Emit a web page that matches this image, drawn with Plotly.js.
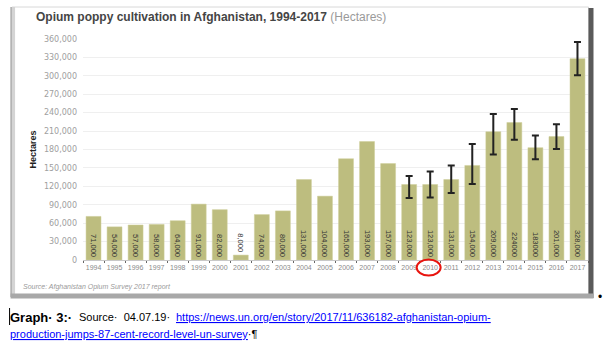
<!DOCTYPE html>
<html>
<head>
<meta charset="utf-8">
<script src="https://cdn.plot.ly/plotly-3.0.1.min.js"></script>
<style>html,body{margin:0;padding:0;background:#fff;}#chart{width:606px;height:352px;}</style>
</head>
<body>
<div id="chart"></div>
<script>
// ---- data ----
const years = ["1994","1995","1996","1997","1998","1999","2000","2001","2002","2003","2004","2005","2006","2007","2008","2009","2010","2011","2012","2013","2014","2015","2016","2017"];
const hectares = [71000,54000,57000,58000,64000,91000,82000,8000,74000,80000,131000,104000,165000,193000,157000,123000,123000,131000,154000,209000,224000,183000,201000,328000];
const barLabels = ["71,000","54,000","57,000","58,000","64,000","91,000","82,000","8,000","74,000","80,000","131,000","104,000","165,000","193,000","157,000","123,000","123,000","131,000","154,000","209,000","224000","183000","201,000","328,000"];
// NaN = no error range reported for that year
const errPlus  = [NaN,NaN,NaN,NaN,NaN,NaN,NaN,NaN,NaN,NaN,NaN,NaN,NaN,NaN,NaN,14000,21000,23000,35000,29000,22000,20000,20000,27000];
const errMinus = [NaN,NaN,NaN,NaN,NaN,NaN,NaN,NaN,NaN,NaN,NaN,NaN,NaN,NaN,NaN,22000,21000,22000,30000,37000,28000,19000,20000,27000];
const yTickVals = [0,30000,60000,90000,120000,150000,180000,210000,240000,270000,300000,330000,360000];
const yTickText = ["0","30,000","60,000","90,000","120,000","150,000","180,000","210,000","240,000","270,000","300,000","330,000","360,000"];

// ---- geometry helpers (pixel -> paper) ----
const L = 83, R = 588.5, T = 39, B = 260;
const W = R - L, H = B - T;
const px = v => (v - L) / W;
const py = v => (B - v) / H;

const textPos = hectares.map(v => v < 20000 ? "outside" : "inside");

const trace = {
  type: "bar",
  x: years,
  y: hectares,
  text: barLabels,
  textposition: textPos,
  insidetextanchor: "start",
  textangle: 90,
  constraintext: "none",
  textfont: {family: "Arial, Liberation Sans, sans-serif", size: 7.5, color: "#333"},
  cliponaxis: false,
  marker: {color: "#BDBD7F", line: {color: "#CFCF9A", width: 0.5}},
  error_y: {type: "data", symmetric: false, array: errPlus, arrayminus: errMinus,
            color: "#222", thickness: 2, width: 3.5, visible: true},
  hoverinfo: "x+y"
};

const shapes = [
  // frame of the embedded screenshot
  {type:"rect", xref:"paper", yref:"paper", x0:px(12), x1:px(589), y0:py(297), y1:py(7),
   line:{color:"#d8d8d8", width:1}, fillcolor:"rgba(0,0,0,0)", layer:"below"},
  {type:"rect", xref:"paper", yref:"paper", x0:px(10.5), x1:px(15), y0:py(297), y1:py(7),
   line:{width:0}, fillcolor:"#d4d4d4"},
  {type:"line", xref:"paper", yref:"paper", x0:px(11), x1:px(11), y0:py(297), y1:py(7),
   line:{color:"#9a9a9a", width:1}},
  {type:"rect", xref:"paper", yref:"paper", x0:px(589), x1:px(594), y0:py(298), y1:py(8),
   line:{width:0}, fillcolor:"#5a5a5a"},
  {type:"rect", xref:"paper", yref:"paper", x0:px(10.5), x1:px(594), y0:py(298.5), y1:py(293.5),
   line:{width:0}, fillcolor:"#a8a8a8"},
  // red circle around 2010
  {type:"circle", xref:"paper", yref:"paper", x0:px(417), x1:px(441), y0:py(275.5), y1:py(259.5),
   line:{color:"#e8140e", width:2}},
  // text cursor
  {type:"line", xref:"paper", yref:"paper", x0:px(9.5), x1:px(9.5), y0:py(325), y1:py(308),
   line:{color:"#000", width:1}}
];

const narrow = "Liberation Sans Narrow, Arial Narrow, Liberation Sans, Arial, sans-serif";
const annotations = [
  {xref:"paper", yref:"paper", x:px(34), y:py(17), xanchor:"left", yanchor:"middle", showarrow:false,
   text:"<b>Opium poppy cultivation in Afghanistan, 1994-2017</b> <span style=\"color:#9a9a9a\">(Hectares)</span>",
   font:{family:"Arial, Liberation Sans, sans-serif", size:12, color:"#454545"}},
  {xref:"paper", yref:"paper", x:px(21), y:py(287), xanchor:"left", yanchor:"middle", showarrow:false,
   text:"<i>Source: Afghanistan Opium Survey 2017 report</i>",
   font:{family:"Arial, Liberation Sans, sans-serif", size:7, color:"#9a9a9a"}},
  {xref:"paper", yref:"paper", x:px(8), y:py(317), xanchor:"left", yanchor:"middle", showarrow:false,
   text:"<b>Graph· 3:·</b>", font:{family:"Arial, Liberation Sans, sans-serif", size:13, color:"#000"}},
  {xref:"paper", yref:"paper", x:px(77), y:py(317), xanchor:"left", yanchor:"middle", showarrow:false,
   text:"Source·  04.07.19·", font:{family:narrow, size:11, color:"#000"}},
  {xref:"paper", yref:"paper", x:px(174), y:py(317), xanchor:"left", yanchor:"middle", showarrow:false,
   text:"<u>https://news.un.org/en/story/2017/11/636182-afghanistan-opium-</u>", font:{family:narrow, size:11, color:"#0000ff"}},
  {xref:"paper", yref:"paper", x:px(8), y:py(334), xanchor:"left", yanchor:"middle", showarrow:false,
   text:"<u>production-jumps-87-cent-record-level-un-survey</u><span style=\"color:#000\">·¶</span>", font:{family:narrow, size:11, color:"#0000ff"}},
  {xref:"paper", yref:"paper", x:px(601), y:py(297), xanchor:"center", yanchor:"middle", showarrow:false,
   text:"•", font:{family:"Arial, sans-serif", size:12, color:"#000"}}
];

const layout = {
  width: 606, height: 352,
  margin: {l: L, r: 606 - R, t: T, b: 352 - B, pad: 0},
  paper_bgcolor: "#ffffff",
  plot_bgcolor: "#ffffff",
  showlegend: false,
  bargap: 0.29,
  font: {family: "Arial, Liberation Sans, sans-serif"},
  xaxis: {
    type: "category",
    range: [-0.5, 23.5],
    showgrid: false,
    showline: true, linecolor: "#c8c8c8", linewidth: 1,
    ticks: "outside", tickson: "boundaries", ticklen: 2, tickcolor: "#666",
    tickfont: {family: "Arial, Liberation Sans, sans-serif", size: 7, color: "#8a8a8a"},
    tickangle: 0,
    ticklabelstandoff: 1,
    fixedrange: true
  },
  yaxis: {
    range: [0, 360000],
    tickvals: yTickVals,
    ticktext: yTickText,
    showgrid: true, gridcolor: "#efefef", gridwidth: 1,
    zeroline: false,
    showline: false,
    ticks: "",
    ticklabelstandoff: 5,
    tickfont: {family: "DejaVu Sans, sans-serif", size: 8, color: "#a0a0a0"},
    title: {text: "Hectares", font: {family: "Arial, Liberation Sans, sans-serif", size: 9, color: "#222", weight: "bold"}, standoff: 5},
    fixedrange: true
  },
  shapes: shapes,
  annotations: annotations
};

Plotly.newPlot("chart", [trace], layout, {displayModeBar: false, staticPlot: true});
</script>
</body>
</html>
